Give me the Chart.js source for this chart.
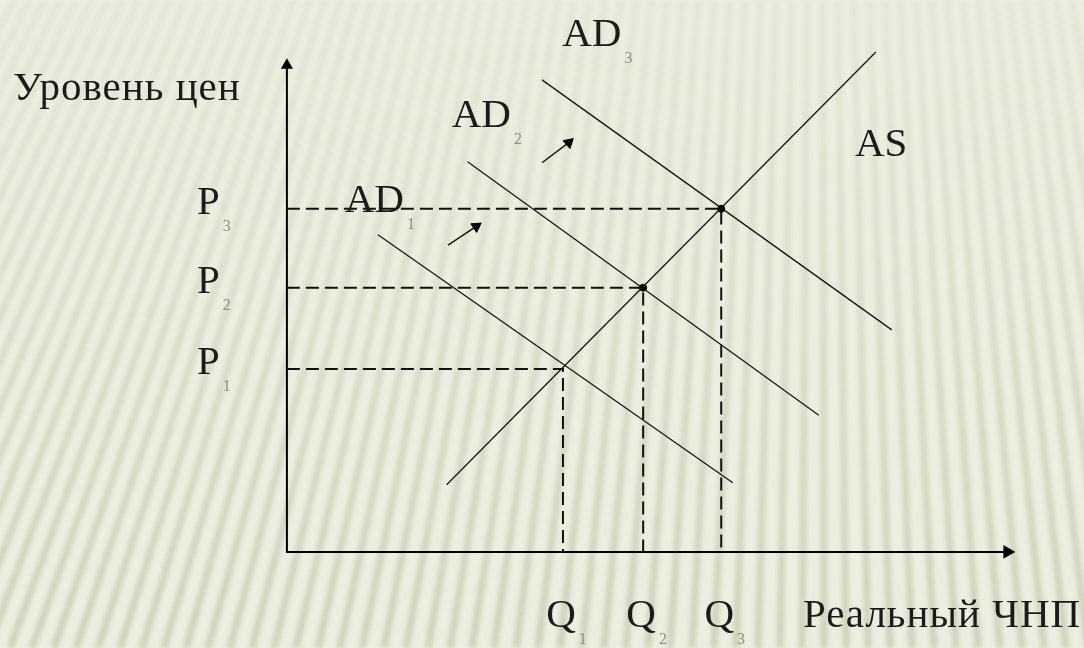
<!DOCTYPE html>
<html>
<head>
<meta charset="utf-8">
<script src="https://cdn.jsdelivr.net/npm/chart.js@4"></script>
<style>
  html, body { margin: 0; padding: 0; background: #eceedf; }
  canvas { display: block; }
</style>
</head>
<body>
<canvas id="myChart" width="1084" height="648"></canvas>
<script>
// equilibrium points Q / P
var qValues = [3.82, 4.93, 6.01];
var pValues = [3.73, 5.39, 7.0];
var subLabels = ["1", "2", "3"];

// curves, [x, y] of both ends
var asLine = [[2.21, 1.37], [8.15, 10.2]];
var ad1Line = [[1.26, 6.47], [6.17, 1.41]];
var ad2Line = [[2.5, 7.96], [7.36, 2.79]];
var ad3Line = [[3.53, 9.63], [8.37, 4.53]];

// shift arrows AD1 -> AD2 -> AD3
var shift1 = [[2.23, 6.26], [2.62, 6.64]];
var shift2 = [[3.53, 7.94], [3.9, 8.35]];

var xAxisEnd = 9.97;
var yAxisEnd = 9.93;

var yTitle = "Уровень цен";
var xTitle = "Реальный ЧНП";

var FONT = "41px 'Liberation Serif', 'DejaVu Serif', serif";
var SUB_FONT = "16px 'Liberation Serif', serif";
var INK = "#1b1b1b";

function pts(arr) {
  return arr.map(function(p) { return { x: p[0], y: p[1] }; });
}

function curve(arr) {
  return {
    data: pts(arr),
    showLine: true,
    borderColor: "#151515",
    borderWidth: 1.3,
    pointRadius: 0
  };
}

function arrow(arr, angle, size) {
  return {
    data: pts(arr),
    showLine: true,
    borderColor: "#111",
    borderWidth: 1.4,
    pointStyle: "triangle",
    pointRadius: [0, size],
    rotation: [0, angle],
    backgroundColor: "#000",
    pointBorderColor: "#000",
    pointBorderWidth: 1
  };
}

function getDatasets() {
  var sets = [];

  // dashed guides to the axes
  for (var i = 0; i < qValues.length; i++) {
    sets.push({
      data: [{ x: 0, y: pValues[i] }, { x: qValues[i], y: pValues[i] }, { x: qValues[i], y: 0 }],
      showLine: true,
      borderColor: "#111",
      borderWidth: 2,
      borderDash: [13, 6],
      pointRadius: 0
    });
  }

  sets.push(curve(asLine));
  sets.push(curve(ad1Line));
  sets.push(curve(ad2Line));
  sets.push(curve(ad3Line));

  // equilibrium dots (the first one has none on the picture)
  sets.push({
    data: [{ x: qValues[1], y: pValues[1] }, { x: qValues[2], y: pValues[2] }],
    showLine: false,
    pointRadius: 3.5,
    backgroundColor: "#000",
    borderColor: "#000"
  });

  sets.push(arrow(shift1, 56, 6));
  sets.push(arrow(shift2, 48, 6));

  // axes
  sets.push({
    data: [{ x: 0, y: yAxisEnd }, { x: 0, y: 0 }, { x: xAxisEnd, y: 0 }],
    showLine: true,
    borderColor: "#000",
    borderWidth: 2,
    pointStyle: "triangle",
    pointRadius: [5, 0, 6],
    rotation: [0, 0, 90],
    backgroundColor: "#000",
    pointBorderColor: "#000"
  });

  return sets;
}

var paperPlugin = {
  id: "paper",
  beforeDraw: function(chart) {
    var ctx = chart.ctx, w = chart.width, h = chart.height;
    ctx.save();
    ctx.fillStyle = "#eceedf";
    ctx.fillRect(0, 0, w, h);
    ctx.filter = "blur(2px)";
    for (var xb = -320; xb < w + 120; xb += 22) {
      var lean = 240 * (1 - xb / 820);
      var grad = ctx.createLinearGradient(0, 0, 0, h);
      grad.addColorStop(0, "rgba(165,170,140,0.10)");
      grad.addColorStop(1, "rgba(150,155,120,0.34)");
      ctx.strokeStyle = grad;
      ctx.lineWidth = 7;
      ctx.beginPath();
      ctx.moveTo(xb, h);
      ctx.lineTo(xb + lean, 0);
      ctx.stroke();
    }
    ctx.restore();
  }
};

function drawLabel(ctx, text, sub, px, py, align) {
  ctx.font = FONT;
  ctx.fillStyle = INK;
  ctx.textAlign = align || "left";
  ctx.textBaseline = "alphabetic";
  ctx.fillText(text, px, py);
  if (sub) {
    var wd = ctx.measureText(text).width;
    var sx = (align === "center") ? px + wd / 2 : px + wd;
    ctx.font = SUB_FONT;
    ctx.fillStyle = "#8d8f86";
    ctx.textAlign = "left";
    ctx.fillText(sub, sx + 3, py + 17);
  }
}

var labelPlugin = {
  id: "labels",
  afterDatasetsDraw: function(chart) {
    var ctx = chart.ctx;
    var sx = chart.scales.x, sy = chart.scales.y;
    function X(v) { return sx.getPixelForValue(v); }
    function Y(v) { return sy.getPixelForValue(v); }

    ctx.save();
    ctx.letterSpacing = "1px";
    drawLabel(ctx, yTitle, null, X(-3.79), Y(9.22));
    drawLabel(ctx, xTitle, null, X(7.14), Y(-1.53));
    ctx.letterSpacing = "0px";

    for (var i = 0; i < qValues.length; i++) {
      drawLabel(ctx, "P", subLabels[i], X(-1.245), Y(pValues[i]) + 5);
      drawLabel(ctx, "Q", subLabels[i], X(qValues[i]) - 2, Y(-1.53), "center");
    }

    drawLabel(ctx, "AD", "1", X(0.8), Y(6.94));
    drawLabel(ctx, "AD", "2", X(2.28), Y(8.67));
    drawLabel(ctx, "AD", "3", X(3.81), Y(10.32));
    drawLabel(ctx, "AS", null, X(7.86), Y(8.08));
    ctx.restore();
  }
};

function getChart() {
  var ctx = document.getElementById("myChart").getContext("2d");
  var chart = new Chart(ctx, {
    type: "scatter",
    data: { datasets: getDatasets() },
    options: {
      responsive: false,
      animation: false,
      devicePixelRatio: 1,
      layout: { padding: 0, autoPadding: false },
      plugins: {
        legend: { display: false },
        tooltip: { enabled: false }
      },
      scales: {
        x: { type: "linear", display: false, min: -3.97, max: 11.03 },
        y: { type: "linear", display: false, min: -1.96, max: 11.26 }
      }
    },
    plugins: [paperPlugin, labelPlugin]
  });
}

getChart();
</script>
</body>
</html>
